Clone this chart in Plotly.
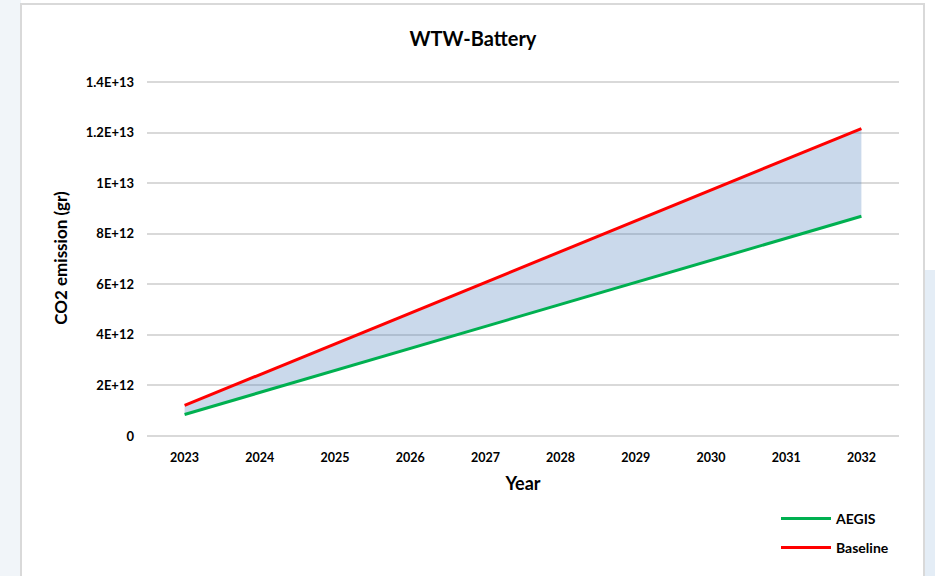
import plotly.graph_objects as go

years = ["2023", "2024", "2025", "2026", "2027", "2028", "2029", "2030", "2031", "2032"]
aegis = [0.85e12, 1.72e12, 2.59e12, 3.46e12, 4.34e12, 5.21e12, 6.08e12, 6.95e12, 7.82e12, 8.69e12]
baseline = [1.21e12, 2.43e12, 3.64e12, 4.86e12, 6.07e12, 7.29e12, 8.50e12, 9.72e12, 10.94e12, 12.16e12]
y_tickvals = [0, 2e12, 4e12, 6e12, 8e12, 10e12, 12e12, 14e12]
y_ticktext = ["0", "2E+12", "4E+12", "6E+12", "8E+12", "1E+13", "1.2E+13", "1.4E+13"]

W, H = 935, 576
L, R, T, B = 147, 36, 80, 140
pw, ph = W - L - R, H - T - B
YMAX = 14e12 * (H - B - T) / (H - B - T - 2)

def px(x):
    return (x - L) / pw

def py(y):
    return (H - B - y) / ph

FONT = "Lato, 'Open Sans', sans-serif"
fig = go.Figure()
fig.add_trace(go.Scatter(x=years, y=aegis, mode="lines", line=dict(width=0, color="#00B050"),
                         showlegend=False, hoverinfo="skip"))
fig.add_trace(go.Scatter(x=years, y=baseline, mode="lines", line=dict(width=0, color="#FF0000"),
                         fill="tonexty", fillcolor="rgba(79,129,189,0.30)", showlegend=False, hoverinfo="skip"))
fig.add_trace(go.Scatter(x=years, y=aegis, mode="lines", name="AEGIS",
                         line=dict(width=3, color="#00B050"), legend="legend"))
fig.add_trace(go.Scatter(x=years, y=baseline, mode="lines", name="Baseline",
                         line=dict(width=3, color="#FF0000"), legend="legend2"))

legend_common = dict(xanchor="left", yanchor="middle", bgcolor="rgba(0,0,0,0)",
                     font=dict(family=FONT, size=14, color="#000000", weight="bold"),
                     itemwidth=50, borderwidth=0)
fig.update_layout(
    width=W, height=H,
    margin=dict(l=L, r=R, t=T, b=B, autoexpand=False),
    paper_bgcolor="white", plot_bgcolor="white",
    title=dict(text="WTW-Battery", x=px(473), xref="paper", y=1 - 39 / H, yanchor="middle",
               xanchor="center", font=dict(family=FONT, size=20, color="#000000", weight="bold")),
    xaxis=dict(type="category", range=[-0.5, len(years) - 0.5], showgrid=False, zeroline=False,
               showline=False, ticks="",
               tickfont=dict(family=FONT, size=12.5, color="#000000", weight="bold"),
               ticklabelstandoff=12,
               title=dict(text="Year", standoff=13,
                          font=dict(family=FONT, size=18, color="#000000", weight="bold")),
               automargin=False),
    yaxis=dict(range=[0, YMAX], tickvals=y_tickvals, ticktext=y_ticktext,
               showgrid=True, gridcolor="#D9D9D9", gridwidth=1.5,
               zeroline=True, zerolinecolor="#D9D9D9", zerolinewidth=1.5, showline=False,
               ticks="", ticklabelstandoff=12,
               tickfont=dict(family=FONT, size=13, color="#000000", weight="bold"),
               title=dict(text="CO2 emission (gr)", standoff=13,
                          font=dict(family=FONT, size=17, color="#000000", weight="bold")),
               automargin=False),
    legend=dict(x=px(776), y=py(519), **legend_common),
    legend2=dict(x=px(776), y=py(548), **legend_common),
    shapes=[
        dict(type="rect", xref="paper", yref="paper", x0=px(0), x1=px(21), y0=py(576), y1=py(0),
             fillcolor="#F1F5F9", line=dict(width=0), layer="below"),
        dict(type="rect", xref="paper", yref="paper", x0=px(924), x1=px(935), y0=py(576), y1=py(270),
             fillcolor="#E4EDF6", line=dict(width=0), layer="below"),
        dict(type="rect", xref="paper", yref="paper", x0=px(21), x1=px(924), y0=py(590), y1=py(4),
             fillcolor="rgba(0,0,0,0)", line=dict(width=2, color="#D9D9D9"), layer="below"),
    ],
)

fig.write_html("out.html")
